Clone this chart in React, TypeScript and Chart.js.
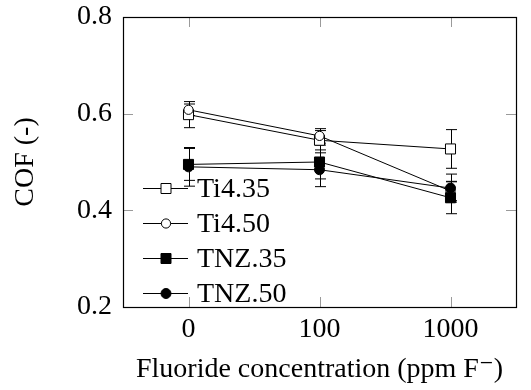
import React, { useEffect, useRef } from 'react';
import { Chart, registerables } from 'chart.js';

Chart.register(...registerables);

// ---- data ----
const categories = ['0', '100', '1000'];
const seriesNames = ['Ti4.35', 'Ti4.50', 'TNZ.35', 'TNZ.50'];
const ti435 = [0.598, 0.545, 0.527];
const ti435Err = [0.027, 0.02, 0.04];
const ti450 = [0.608, 0.554, 0.44];
const ti450Err = [0.012, 0.015, 0.02];
const tnz35 = [0.495, 0.5, 0.426];
const tnz35Err = [0.033, 0.035, 0.033];
const tnz50 = [0.49, 0.484, 0.446];
const tnz50Err = [0.04, 0.035, 0.029];
const yTicks = [0.2, 0.4, 0.6, 0.8];
const xTitle = 'Fluoride concentration (ppm F\u207B)';
const yTitle = 'COF (-)';

const seriesValues = [ti435, ti450, tnz35, tnz50];
const seriesErrors = [ti435Err, ti450Err, tnz35Err, tnz50Err];
const seriesShapes = ['rect', 'circle', 'rect', 'circle'];
const seriesFilled = [false, false, true, true];

const FONT = '"Liberation Serif", "DejaVu Serif", serif';
const FS = 28;

function drawMarker(ctx: CanvasRenderingContext2D, shape: string, filled: boolean, x: number, y: number) {
  ctx.save();
  ctx.lineWidth = 1;
  ctx.strokeStyle = '#000';
  ctx.fillStyle = filled ? '#000' : '#fff';
  ctx.beginPath();
  if (shape === 'rect') {
    const h = 5;
    ctx.rect(x - h, y - h, 2 * h, 2 * h);
  } else {
    ctx.arc(x, y, filled ? 5 : 4.6, 0, Math.PI * 2);
  }
  ctx.fill();
  ctx.stroke();
  ctx.restore();
}

const errorBarPlugin = {
  id: 'errorBars',
  beforeDatasetsDraw(chart: any) {
    const ctx = chart.ctx;
    const xs = chart.scales.x;
    const ys = chart.scales.y;
    ctx.save();
    ctx.strokeStyle = '#000';
    ctx.lineWidth = 1;
    seriesValues.forEach((vals, si) => {
      const errs = seriesErrors[si];
      vals.forEach((v, i) => {
        const px = Math.round(xs.getPixelForValue(i)) + 0.5;
        const yt = ys.getPixelForValue(v + errs[i]);
        const yb = ys.getPixelForValue(v - errs[i]);
        ctx.beginPath();
        ctx.moveTo(px, yt);
        ctx.lineTo(px, yb);
        ctx.moveTo(px - 5.5, yt);
        ctx.lineTo(px + 5.5, yt);
        ctx.moveTo(px - 5.5, yb);
        ctx.lineTo(px + 5.5, yb);
        ctx.stroke();
      });
    });
    ctx.restore();
  },
};

const framePlugin = {
  id: 'frameTicks',
  afterDraw(chart: any) {
    const ctx = chart.ctx;
    const { left, right, top, bottom } = chart.chartArea;
    const xs = chart.scales.x;
    const ys = chart.scales.y;
    ctx.save();
    // inner tick marks
    ctx.strokeStyle = '#9a9a9a';
    ctx.lineWidth = 1;
    ctx.beginPath();
    xs.ticks.forEach((_t: any, i: number) => {
      const px = Math.round(xs.getPixelForTick(i)) + 0.5;
      ctx.moveTo(px, bottom);
      ctx.lineTo(px, bottom - 10);
      ctx.moveTo(px, top);
      ctx.lineTo(px, top + 10);
    });
    ys.ticks.forEach((_t: any, i: number) => {
      const py = Math.round(ys.getPixelForTick(i)) + 0.5;
      ctx.moveTo(left, py);
      ctx.lineTo(left + 10, py);
      ctx.moveTo(right, py);
      ctx.lineTo(right - 10, py);
    });
    ctx.stroke();
    // frame
    ctx.strokeStyle = '#000';
    ctx.lineWidth = 1.2;
    ctx.strokeRect(Math.round(left) + 0.5, Math.round(top) + 0.5, Math.round(right - left), Math.round(bottom - top));

    // legend
    ctx.font = `${FS}px ${FONT}`;
    ctx.fillStyle = '#000';
    ctx.textAlign = 'left';
    ctx.textBaseline = 'alphabetic';
    seriesNames.forEach((name, i) => {
      const ry = Math.round(top + 171 + i * 35) + 0.5;
      ctx.strokeStyle = '#000';
      ctx.lineWidth = 1;
      ctx.beginPath();
      ctx.moveTo(left + 20, ry);
      ctx.lineTo(left + 65, ry);
      ctx.stroke();
      drawMarker(ctx, seriesShapes[i], seriesFilled[i], left + 43, ry);
      ctx.fillText(name, left + 74, ry + 8);
    });
    ctx.restore();
  },
};

export default function App() {
  const ref = useRef<HTMLCanvasElement | null>(null);

  useEffect(() => {
    document.body.style.margin = '0';
    const canvas = ref.current;
    if (!canvas) return;
    const datasets = seriesNames.map((name, i) => ({
      label: name,
      data: seriesValues[i],
      borderColor: '#000',
      borderWidth: 1,
      backgroundColor: seriesFilled[i] ? '#000' : '#fff',
      pointBackgroundColor: seriesFilled[i] ? '#000' : '#fff',
      pointBorderColor: '#000',
      pointBorderWidth: 1,
      pointStyle: seriesShapes[i],
      pointRadius: seriesShapes[i] === 'rect' ? 7.1 : seriesFilled[i] ? 5 : 4.6,
      pointHoverRadius: 7,
      fill: false,
      tension: 0,
      order: seriesNames.length - 1 - i,
    }));

    const chart = new Chart(canvas, {
      type: 'line',
      data: { labels: categories, datasets },
      options: {
        responsive: false,
        animation: false,
        maintainAspectRatio: false,
        layout: { padding: { top: 17, right: 15, left: 0, bottom: 0 } },
        plugins: {
          legend: { display: false },
          tooltip: { enabled: false },
        },
        scales: {
          x: {
            type: 'category',
            offset: true,
            grid: { display: false, drawTicks: false },
            border: { display: false },
            ticks: {
              color: '#000',
              font: { family: FONT, size: FS },
              padding: 6,
              maxRotation: 0,
            },
            title: {
              display: true,
              text: xTitle,
              color: '#000',
              font: { family: FONT, size: FS, lineHeight: 1 },
              padding: { top: 0, bottom: 6 },
            },
            afterFit: (s: any) => {
              s.height = 83;
              s.paddingLeft = 0;
              s.paddingRight = 0;
            },
          },
          y: {
            type: 'linear',
            min: 0.2,
            max: 0.8,
            grid: { display: false, drawTicks: false },
            border: { display: false },
            afterBuildTicks: (s: any) => {
              s.ticks = yTicks.map((v) => ({ value: v }));
            },
            ticks: {
              color: '#000',
              font: { family: FONT, size: FS },
              padding: 11,
              callback: (v: any) => Number(v).toFixed(1),
            },
            title: {
              display: true,
              text: yTitle,
              color: '#000',
              font: { family: FONT, size: FS, lineHeight: 1 },
              padding: { top: 12, bottom: 0 },
            },
            afterFit: (s: any) => {
              s.width = 123;
              s.paddingTop = 0;
              s.paddingBottom = 0;
            },
          },
        },
      },
      plugins: [errorBarPlugin, framePlugin],
    });
    return () => chart.destroy();
  }, []);

  return (
    <div style={{ width: 531, height: 390 }}>
      <canvas ref={ref} width={531} height={390} style={{ display: 'block' }} />
    </div>
  );
}
